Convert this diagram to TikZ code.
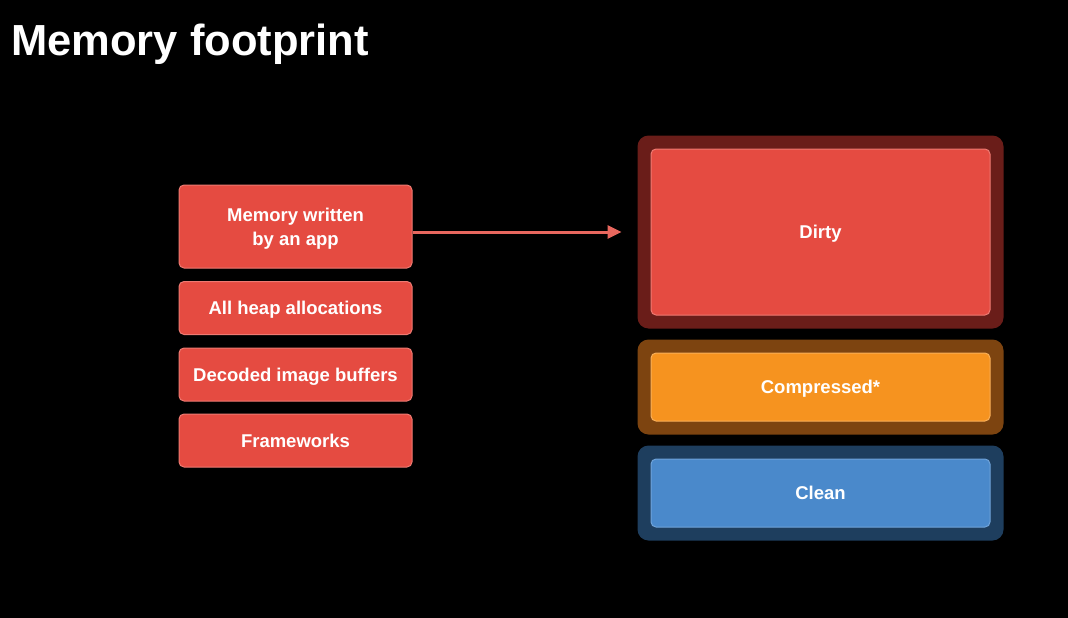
\documentclass[tikz,border=0pt]{standalone}
\usepackage{fontspec}
\setmainfont{Liberation Sans}
\usetikzlibrary{arrows.meta,positioning,fit,backgrounds}
\definecolor{boxred}{RGB}{229,75,65}
\definecolor{edgered}{RGB}{238,122,114}
\definecolor{arrred}{RGB}{232,103,94}
\definecolor{framered}{RGB}{106,29,25}
\definecolor{boxorange}{RGB}{246,147,31}
\definecolor{edgeorange}{RGB}{249,175,88}
\definecolor{frameorange}{RGB}{125,68,16}
\definecolor{boxblue}{RGB}{74,137,203}
\definecolor{edgeblue}{RGB}{111,163,217}
\definecolor{frameblue}{RGB}{30,62,94}

\begin{document}
\begin{tikzpicture}[x=1pt,y=-1pt,
  blk/.style={rectangle,rounded corners=5pt,line width=1pt,text=white,
    font=\bfseries\fontsize{18.5}{24}\selectfont,align=center,inner sep=0pt,
    text height=13.3pt,text depth=0pt},
  redblk/.style={blk,fill=boxred,draw=edgered},
  leftblk/.style={redblk,minimum width=233pt,minimum height=53pt},
  frm/.style={rectangle,rounded corners=11pt,inner sep=13pt},
  arr/.style={-{Triangle[length=14pt,width=13pt]},line width=3pt,draw=arrred}]

\begin{scope}[on background layer]
  \fill[black] (0,0) rectangle (1068,618);
\end{scope}
\useasboundingbox (0,0) rectangle (1068,618);

%% title
\node[anchor=base west,text=white,font=\bfseries\fontsize{43.5}{50}\selectfont,inner sep=0pt]
  (title) at (11,56) {Memory footprint};

%% left: what counts as dirty
\node[leftblk,minimum height=83pt,text height=37.3pt] (written) at (295.5,226.5) {Memory written\\by an app};
\node[leftblk,below=12.5pt of written] (heap) {All heap allocations};
\node[leftblk,below=12.5pt of heap] (decoded) {Decoded image buffers};
\node[leftblk,below=12pt of decoded] (frameworks) {Frameworks};

%% right: footprint stack
\node[redblk,minimum width=339pt,minimum height=166pt] (dirty) at (820.5,232) {Dirty};
\node[blk,fill=boxorange,draw=edgeorange,minimum width=339pt,minimum height=68pt]
  (compressed) at (820.5,387) {Compressed*};
\node[blk,fill=boxblue,draw=edgeblue,minimum width=339pt,minimum height=68pt]
  (clean) at (820.5,493) {Clean};

\begin{scope}[on background layer]
  \node[frm,fill=framered,fit=(dirty)] (dirtyfrm) {};
  \node[frm,fill=frameorange,fit=(compressed)] (compressedfrm) {};
  \node[frm,fill=frameblue,fit=(clean)] (cleanfrm) {};
\end{scope}

\draw[arr,shorten >=29pt] (written.east |- dirty.west) -- (dirty.west);
\end{tikzpicture}
\end{document}
